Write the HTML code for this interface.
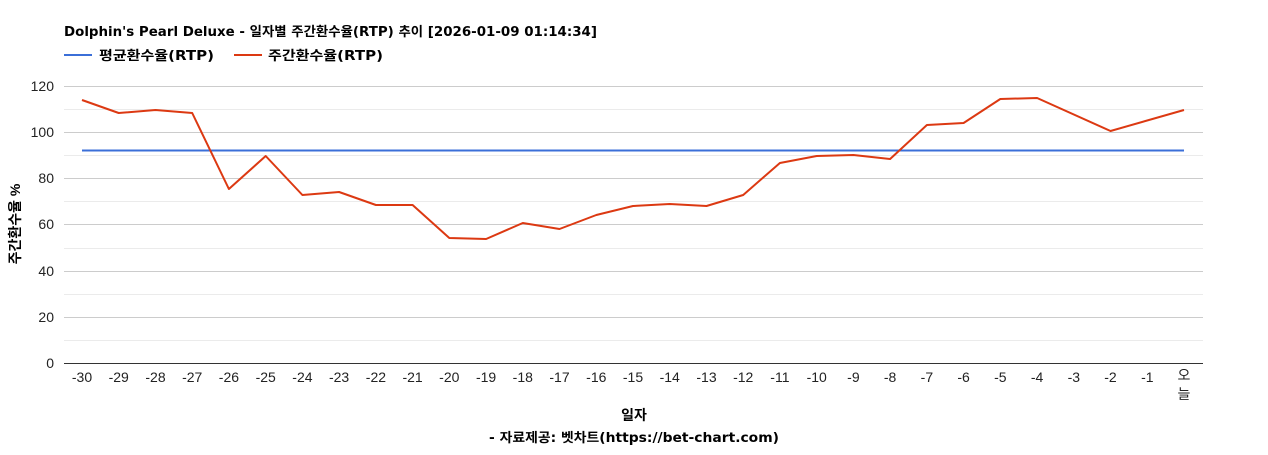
<!DOCTYPE html>
<html><head><meta charset="utf-8"><style>
body{margin:0;background:#fff;}
svg text{font-family:"Liberation Sans","Noto Sans CJK KR",sans-serif;}
svg text.dj{font-family:"DejaVu Sans","Noto Sans CJK KR",sans-serif;}
</style></head><body>
<svg width="1268" height="450" xmlns="http://www.w3.org/2000/svg">
<text class="dj" x="64" y="36" font-size="13" font-weight="bold" fill="#000" textLength="533" lengthAdjust="spacingAndGlyphs">Dolphin's Pearl Deluxe - 일자별 주간환수율(RTP) 추이 [2026-01-09 01:14:34]</text>
<line x1="64" y1="55" x2="92" y2="55" stroke="#3b6fd8" stroke-width="2"/>
<text class="dj" x="99" y="60" font-size="13" font-weight="bold" textLength="115" lengthAdjust="spacingAndGlyphs">평균환수율(RTP)</text>
<line x1="234" y1="55" x2="262" y2="55" stroke="#dc3912" stroke-width="2"/>
<text class="dj" x="268" y="60" font-size="13" font-weight="bold" textLength="115" lengthAdjust="spacingAndGlyphs">주간환수율(RTP)</text>
<g stroke="#ebebeb" stroke-width="1">
<line x1="64" y1="109.5" x2="1203" y2="109.5"/><line x1="64" y1="155.5" x2="1203" y2="155.5"/><line x1="64" y1="201.5" x2="1203" y2="201.5"/><line x1="64" y1="248.5" x2="1203" y2="248.5"/><line x1="64" y1="294.5" x2="1203" y2="294.5"/><line x1="64" y1="340.5" x2="1203" y2="340.5"/>
</g>
<g stroke="#cccccc" stroke-width="1">
<line x1="64" y1="86.5" x2="1203" y2="86.5"/><line x1="64" y1="132.5" x2="1203" y2="132.5"/><line x1="64" y1="178.5" x2="1203" y2="178.5"/><line x1="64" y1="224.5" x2="1203" y2="224.5"/><line x1="64" y1="271.5" x2="1203" y2="271.5"/><line x1="64" y1="317.5" x2="1203" y2="317.5"/>
</g>
<line x1="64" y1="363.5" x2="1203" y2="363.5" stroke="#333" stroke-width="1"/>
<g font-size="14" text-anchor="end" fill="#222">
<text x="54" y="91">120</text><text x="54" y="137">100</text><text x="54" y="183">80</text><text x="54" y="229">60</text><text x="54" y="276">40</text><text x="54" y="322">20</text><text x="54" y="368">0</text>
</g>
<g font-size="14" text-anchor="middle" fill="#222">
<text x="82" y="382">-30</text><text x="118.7" y="382">-29</text><text x="155.5" y="382">-28</text><text x="192.2" y="382">-27</text><text x="228.9" y="382">-26</text><text x="265.7" y="382">-25</text><text x="302.4" y="382">-24</text><text x="339.1" y="382">-23</text><text x="375.9" y="382">-22</text><text x="412.6" y="382">-21</text><text x="449.3" y="382">-20</text><text x="486.1" y="382">-19</text><text x="522.8" y="382">-18</text><text x="559.5" y="382">-17</text><text x="596.3" y="382">-16</text><text x="633" y="382">-15</text><text x="669.7" y="382">-14</text><text x="706.5" y="382">-13</text><text x="743.2" y="382">-12</text><text x="779.9" y="382">-11</text><text x="816.7" y="382">-10</text><text x="853.4" y="382">-9</text><text x="890.1" y="382">-8</text><text x="926.9" y="382">-7</text><text x="963.6" y="382">-6</text><text x="1000.3" y="382">-5</text><text x="1037.1" y="382">-4</text><text x="1073.8" y="382">-3</text><text x="1110.5" y="382">-2</text><text x="1147.3" y="382">-1</text><text x="1184" y="380">오</text><text x="1184" y="399">늘</text>
</g>
<text x="634" y="420" font-size="14" font-weight="bold" text-anchor="middle">일자</text>
<text class="dj" x="634" y="442" font-size="13" font-weight="bold" text-anchor="middle" textLength="290" lengthAdjust="spacingAndGlyphs">- 자료제공: 벳차트(https://bet-chart.com)</text>
<text transform="translate(20,224) rotate(-90)" font-size="14" font-weight="bold" text-anchor="middle">주간환수율 %</text>
<line x1="82" y1="150.5" x2="1184" y2="150.5" stroke="#3b6fd8" stroke-width="2"/>
<polyline fill="none" stroke="#dc3912" stroke-width="2" stroke-linejoin="round" points="82,100 118.7,113 155.5,110 192.2,113 228.9,189 265.7,156 302.4,195 339.1,192 375.9,205 412.6,205 449.3,238 486.1,239 522.8,223 559.5,229 596.3,215 633,206 669.7,204 706.5,206 743.2,195 779.9,163 816.7,156 853.4,155 890.1,159 926.9,125 963.6,123 1000.3,99 1037.1,98 1110.5,131 1184,110"/>
</svg>
</body></html>
